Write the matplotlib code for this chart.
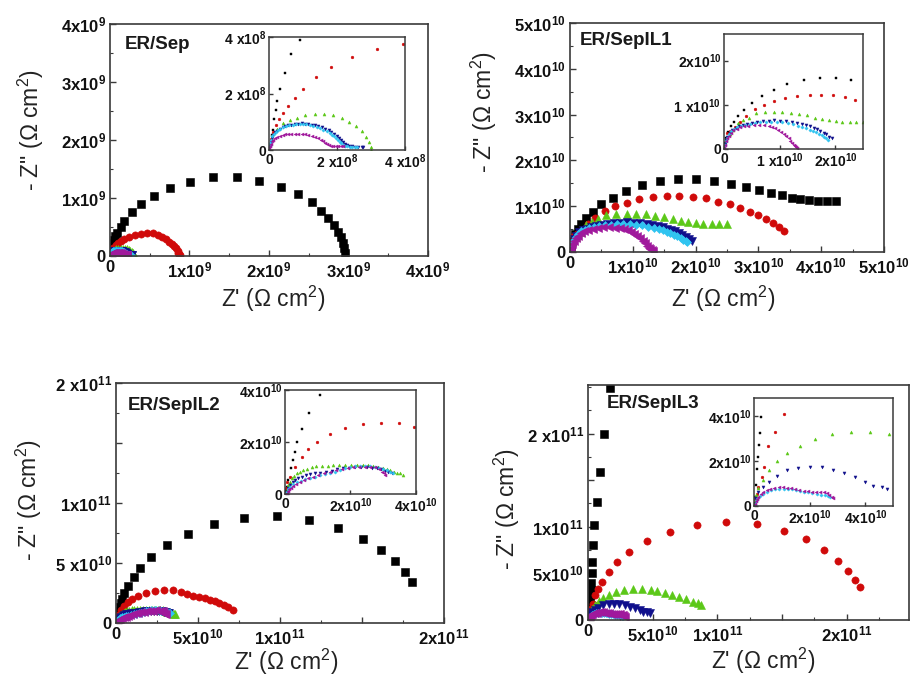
import numpy as np
import matplotlib as mpl
mpl.use('Agg')
import matplotlib.pyplot as plt
from matplotlib.ticker import FixedLocator, MultipleLocator

plt.rcParams['font.family'] = ['Liberation Sans', 'DejaVu Sans']
plt.rcParams['mathtext.default'] = 'regular'

# ---------------- ER/Sep (units 1e9 / 1e8) ----------------
sep_k_x = np.array([0.003, 0.008, 0.011, 0.015, 0.021, 0.024, 0.032, 0.046, 0.065, 0.092, 0.135, 0.18, 0.273,
                    0.39, 0.553, 0.755, 1.006, 1.292, 1.594, 1.878, 2.151, 2.369, 2.537, 2.65, 2.746, 2.821,
                    2.872, 2.902, 2.927, 2.943, 2.952]) * 1e9
sep_k_y = np.array([0.014, 0.053, 0.07, 0.111, 0.143, 0.175, 0.216, 0.271, 0.339, 0.391, 0.495, 0.609, 0.759,
                    0.897, 1.04, 1.178, 1.281, 1.357, 1.357, 1.298, 1.19, 1.069, 0.926, 0.776, 0.65, 0.529,
                    0.419, 0.322, 0.229, 0.133, 0.047]) * 1e9
sep_r_x = np.array([0.005, 0.012, 0.0206, 0.030, 0.042, 0.057, 0.075, 0.101, 0.137, 0.182, 0.243, 0.317, 0.395,
                    0.47, 0.54, 0.60, 0.65, 0.70, 0.74, 0.78, 0.81, 0.83, 0.85, 0.86, 0.87, 0.875]) * 1e9
sep_r_y = np.array([0.04, 0.065, 0.0877, 0.108, 0.131, 0.154, 0.185, 0.216, 0.257, 0.295, 0.330, 0.359, 0.374,
                    0.40, 0.39, 0.365, 0.33, 0.29, 0.25, 0.21, 0.17, 0.13, 0.09, 0.06, 0.03, 0.01]) * 1e9
sep_g_x = np.array([0.02, 0.08, 0.226, 0.42, 0.62, 0.81, 1.06, 1.35, 1.62, 1.89, 2.14, 2.36, 2.56, 2.73, 2.85,
                    2.93, 2.99, 3.01]) * 1e8
sep_g_y = np.array([0.2, 0.526, 0.76, 0.94, 1.05, 1.15, 1.23, 1.29, 1.29, 1.24, 1.15, 0.99, 0.84, 0.67, 0.47,
                    0.29, 0.12, 0.0]) * 1e8
sep_b_x = np.array([0.02, 0.05, 0.09, 0.13, 0.18, 0.24, 0.32, 0.40, 0.48, 0.57, 0.66, 0.76, 0.86, 0.96, 1.06,
                    1.16, 1.26, 1.35, 1.45, 1.55, 1.65, 1.75, 1.83, 1.91, 1.99, 2.07, 2.13, 2.19, 2.24, 2.28,
                    2.35, 2.43, 2.52, 2.63, 2.72, 2.77]) * 1e8
sep_b_y = np.array([0.15, 0.29, 0.42, 0.53, 0.62, 0.68, 0.74, 0.80, 0.84, 0.88, 0.90, 0.92, 0.93, 0.94, 0.93,
                    0.91, 0.89, 0.87, 0.84, 0.80, 0.75, 0.70, 0.64, 0.58, 0.51, 0.44, 0.36, 0.29, 0.22, 0.18,
                    0.14, 0.13, 0.12, 0.12, 0.12, 0.12]) * 1e8
sep_c_x = np.array([0.02, 0.04, 0.07, 0.10, 0.15, 0.20, 0.26, 0.33, 0.41, 0.50, 0.60, 0.70, 0.80, 0.90, 1.00,
                    1.10, 1.20, 1.30, 1.40, 1.50, 1.60, 1.70, 1.78, 1.85, 1.92, 1.98, 2.03, 2.08, 2.13, 2.18,
                    2.24, 2.30, 2.37, 2.45, 2.53, 2.60]) * 1e8
sep_c_y = np.array([0.15, 0.25, 0.36, 0.48, 0.57, 0.64, 0.70, 0.76, 0.81, 0.85, 0.88, 0.90, 0.92, 0.92, 0.92,
                    0.91, 0.89, 0.86, 0.82, 0.78, 0.72, 0.66, 0.60, 0.54, 0.48, 0.42, 0.36, 0.30, 0.24, 0.19,
                    0.15, 0.13, 0.12, 0.11, 0.11, 0.10]) * 1e8
sep_m_x = np.array([0.01, 0.03, 0.05, 0.09, 0.13, 0.18, 0.24, 0.32, 0.40, 0.48, 0.57, 0.66, 0.76, 0.86, 0.96,
                    1.06, 1.16, 1.26, 1.35, 1.44, 1.52, 1.59, 1.65, 1.70, 1.75, 1.82, 1.89, 1.96, 2.04, 2.11,
                    2.19]) * 1e8
sep_m_y = np.array([0.06, 0.15, 0.23, 0.31, 0.37, 0.42, 0.47, 0.51, 0.54, 0.56, 0.57, 0.58, 0.58, 0.58, 0.57,
                    0.56, 0.54, 0.51, 0.47, 0.42, 0.37, 0.31, 0.26, 0.22, 0.18, 0.15, 0.14, 0.14, 0.14, 0.14,
                    0.14]) * 1e8

# ---------------- ER/SepIL1 (units 1e10) ----------------
il1_k_x = np.array([0.01, 0.036, 0.077, 0.12, 0.18, 0.26, 0.36, 0.50, 0.68, 0.89, 1.14, 1.43, 1.72, 2.01, 2.29,
                    2.56, 2.80, 3.01, 3.20, 3.37, 3.53, 3.67, 3.81, 3.95, 4.10, 4.24]) * 1e10
il1_k_y = np.array([0.13, 0.24, 0.39, 0.51, 0.62, 0.75, 0.88, 1.04, 1.19, 1.34, 1.47, 1.56, 1.60, 1.60, 1.56,
                    1.48, 1.43, 1.35, 1.29, 1.24, 1.19, 1.15, 1.14, 1.12, 1.11, 1.12]) * 1e10
il1_r_x = np.array([0.03, 0.06, 0.11, 0.19, 0.28, 0.40, 0.56, 0.72, 0.90, 1.10, 1.32, 1.54, 1.74, 1.96, 2.17,
                    2.36, 2.55, 2.71, 2.86, 3.00, 3.12, 3.24, 3.33, 3.41]) * 1e10
il1_r_y = np.array([0.20, 0.36, 0.40, 0.49, 0.62, 0.75, 0.90, 1.00, 1.08, 1.15, 1.20, 1.22, 1.22, 1.21, 1.17,
                    1.10, 1.04, 0.95, 0.88, 0.81, 0.72, 0.63, 0.54, 0.46]) * 1e10
il1_g_x = np.array([0.03, 0.10, 0.17, 0.25, 0.35, 0.45, 0.58, 0.74, 0.90, 1.05, 1.21, 1.35, 1.50, 1.64, 1.76,
                    1.88, 2.01, 2.12, 2.26, 2.38, 2.50]) * 1e10
il1_g_y = np.array([0.22, 0.33, 0.44, 0.59, 0.66, 0.71, 0.81, 0.84, 0.84, 0.84, 0.82, 0.79, 0.76, 0.71, 0.68,
                    0.65, 0.63, 0.61, 0.61, 0.61, 0.61]) * 1e10
il1_b_x = np.array([0.01, 0.03, 0.06, 0.10, 0.15, 0.21, 0.27, 0.34, 0.41, 0.50, 0.59, 0.70, 0.80, 0.90, 1.01,
                    1.11, 1.22, 1.31, 1.40, 1.48, 1.55, 1.61, 1.67, 1.73, 1.79, 1.84, 1.89, 1.94]) * 1e10
il1_b_y = np.array([0.12, 0.20, 0.28, 0.36, 0.43, 0.47, 0.51, 0.54, 0.57, 0.59, 0.61, 0.63, 0.64, 0.645, 0.64,
                    0.63, 0.61, 0.59, 0.57, 0.54, 0.51, 0.48, 0.45, 0.41, 0.37, 0.33, 0.28, 0.24]) * 1e10
il1_c_x = np.array([0.01, 0.03, 0.05, 0.09, 0.13, 0.18, 0.24, 0.31, 0.38, 0.46, 0.55, 0.65, 0.75, 0.85, 0.95,
                    1.05, 1.15, 1.24, 1.33, 1.41, 1.48, 1.54, 1.60, 1.66, 1.71, 1.76, 1.80, 1.84, 1.87]) * 1e10
il1_c_y = np.array([0.10, 0.18, 0.25, 0.33, 0.40, 0.45, 0.49, 0.52, 0.55, 0.57, 0.59, 0.60, 0.61, 0.615, 0.61,
                    0.60, 0.58, 0.555, 0.53, 0.50, 0.47, 0.44, 0.41, 0.38, 0.34, 0.31, 0.27, 0.24, 0.21]) * 1e10
il1_m_x = np.array([0.0, 0.01, 0.03, 0.06, 0.09, 0.13, 0.17, 0.23, 0.29, 0.36, 0.44, 0.53, 0.62, 0.71, 0.80,
                    0.86, 0.92, 0.97, 1.02, 1.07, 1.12, 1.16, 1.19, 1.22, 1.25, 1.28, 1.30, 1.32]) * 1e10
il1_m_y = np.array([0.02, 0.08, 0.17, 0.24, 0.30, 0.36, 0.42, 0.46, 0.49, 0.51, 0.53, 0.54, 0.545, 0.535, 0.52,
                    0.50, 0.47, 0.43, 0.39, 0.35, 0.30, 0.25, 0.19, 0.14, 0.09, 0.06, 0.04, 0.02]) * 1e10

# ---------------- ER/SepIL2 (units 1e10) ----------------
il2_k_x = np.array([0.02, 0.05, 0.10, 0.17, 0.23, 0.31, 0.36, 0.51, 0.74, 1.07, 1.46, 2.13, 3.09, 4.37, 5.98,
                    7.80, 9.80, 11.79, 13.56, 15.08, 16.16, 17.01, 17.62, 18.03]) * 1e10
il2_k_y = np.array([0.15, 0.28, 0.54, 0.99, 1.31, 1.63, 2.01, 2.49, 3.10, 3.81, 4.56, 5.53, 6.5, 7.42, 8.25,
                    8.72, 8.92, 8.58, 7.89, 7.03, 6.08, 5.14, 4.25, 3.44]) * 1e10
il2_r_x = np.array([0.02, 0.06, 0.15, 0.30, 0.51, 0.71, 0.99, 1.37, 1.83, 2.39, 2.92, 3.48, 3.94, 4.31, 4.71,
                    5.08, 5.43, 5.73, 6.04, 6.30, 6.59, 6.85, 7.11]) * 1e10
il2_r_y = np.array([0.25, 0.45, 0.67, 1.05, 1.41, 1.72, 1.99, 2.29, 2.53, 2.68, 2.74, 2.74, 2.59, 2.42, 2.25,
                    2.14, 2.06, 1.92, 1.83, 1.69, 1.5, 1.31, 1.08]) * 1e10
il2_g_x = np.array([0.02, 0.05, 0.10, 0.15, 0.20, 0.28, 0.36, 0.46, 0.56, 0.68, 0.81, 0.96, 1.12, 1.30, 1.48,
                    1.66, 1.83, 2.01, 2.19, 2.37, 2.54, 2.70, 2.85, 2.98, 3.11, 3.22, 3.33, 3.42, 3.51, 3.61]) * 1e10
il2_g_y = np.array([0.05, 0.15, 0.35, 0.48, 0.60, 0.70, 0.79, 0.86, 0.92, 0.98, 1.03, 1.06, 1.08, 1.09, 1.10,
                    1.11, 1.12, 1.12, 1.12, 1.11, 1.10, 1.08, 1.05, 1.00, 0.95, 0.91, 0.86, 0.82, 0.79, 0.73]) * 1e10
il2_b_x = np.array([0.02, 0.05, 0.10, 0.15, 0.23, 0.31, 0.41, 0.51, 0.63, 0.76, 0.91, 1.07, 1.25, 1.43, 1.60,
                    1.78, 1.96, 2.14, 2.31, 2.49, 2.65, 2.80, 2.93, 3.05, 3.16, 3.26]) * 1e10
il2_b_y = np.array([0.03, 0.09, 0.22, 0.35, 0.45, 0.54, 0.61, 0.67, 0.72, 0.77, 0.80, 0.82, 0.86, 0.90, 0.95,
                    0.99, 1.01, 1.03, 1.03, 1.03, 1.01, 0.99, 0.95, 0.90, 0.86, 0.82]) * 1e10
il2_c_x = np.array([0.02, 0.05, 0.10, 0.15, 0.25, 0.36, 0.48, 0.61, 0.76, 0.92, 1.07, 1.22, 1.38, 1.53, 1.68,
                    1.83, 1.98, 2.14, 2.29, 2.44, 2.60, 2.75, 2.88, 3.00, 3.11, 3.21, 3.30]) * 1e10
il2_c_y = np.array([0.03, 0.08, 0.18, 0.28, 0.38, 0.47, 0.52, 0.56, 0.62, 0.67, 0.72, 0.76, 0.81, 0.86, 0.92,
                    0.99, 1.04, 1.08, 1.09, 1.08, 1.06, 1.03, 0.99, 0.95, 0.91, 0.86, 0.82]) * 1e10
il2_m_x = np.array([0.02, 0.05, 0.09, 0.13, 0.19, 0.25, 0.35, 0.46, 0.58, 0.71, 0.86, 1.02, 1.19, 1.37, 1.55,
                    1.73, 1.91, 2.09, 2.27, 2.44, 2.60, 2.75, 2.86, 2.95, 3.01, 3.05]) * 1e10
il2_m_y = np.array([0.02, 0.05, 0.11, 0.18, 0.25, 0.31, 0.39, 0.47, 0.54, 0.60, 0.67, 0.73, 0.80, 0.86, 0.91,
                    0.95, 0.99, 1.03, 1.04, 1.05, 1.04, 1.03, 0.96, 0.86, 0.79, 0.73]) * 1e10

# ---------------- ER/SepIL3 (units 1e10) ----------------
il3_k_x = np.array([0.02, 0.04, 0.07, 0.12, 0.16, 0.19, 0.22, 0.24, 0.28, 0.31, 0.36, 0.49, 0.67, 0.93, 1.21,
                    1.72]) * 1e10
il3_k_y = np.array([0.15, 0.41, 0.93, 1.63, 2.19, 2.71, 3.23, 3.97, 5.07, 6.25, 8.04, 10.18, 12.68, 15.9, 19.9,
                    24.9]) * 1e10
il3_r_x = np.array([0.05, 0.10, 0.16, 0.28, 0.36, 0.52, 0.76, 1.09, 1.59, 2.24, 3.19, 4.55, 6.33, 8.39, 10.70,
                    13.02, 15.15, 16.82, 18.24, 19.34, 20.12, 20.63, 20.99]) * 1e10
il3_r_y = np.array([0.3, 0.55, 0.86, 1.28, 1.75, 2.67, 3.30, 4.09, 5.18, 6.18, 7.32, 8.50, 9.46, 10.18, 10.47,
                    10.29, 9.57, 8.65, 7.50, 6.36, 5.28, 4.29, 3.50]) * 1e10
il3_g_x = np.array([0.03, 0.08, 0.16, 0.32, 0.55, 0.84, 1.20, 1.65, 2.19, 2.79, 3.49, 4.17, 4.86, 5.35, 5.94,
                    6.46, 7.05, 7.56, 8.13, 8.51, 8.72]) * 1e10
il3_g_y = np.array([0.25, 0.5, 0.79, 1.16, 1.6, 2.01, 2.37, 2.68, 2.98, 3.18, 3.30, 3.30, 3.21, 3.14, 2.93,
                    2.68, 2.43, 2.21, 1.96, 1.79, 1.6]) * 1e10
il3_b_x = np.array([0.04, 0.16, 0.34, 0.55, 0.81, 1.17, 1.59, 2.01, 2.43, 2.85, 3.24, 3.63, 3.99, 4.29, 4.59,
                    4.80]) * 1e10
il3_b_y = np.array([0.34, 0.64, 0.86, 1.08, 1.33, 1.60, 1.67, 1.72, 1.72, 1.60, 1.45, 1.27, 1.08, 0.90, 0.83,
                    0.75]) * 1e10
il3_c_x = np.array([0.02, 0.06, 0.12, 0.22, 0.33, 0.46, 0.60, 0.76, 0.91, 1.06, 1.21, 1.36, 1.50, 1.65, 1.80,
                    1.95, 2.10, 2.25, 2.40, 2.55, 2.65, 2.73]) * 1e10
il3_c_y = np.array([0.10, 0.20, 0.30, 0.44, 0.55, 0.64, 0.70, 0.74, 0.76, 0.77, 0.76, 0.74, 0.71, 0.68, 0.64,
                    0.60, 0.56, 0.53, 0.51, 0.49, 0.45, 0.41]) * 1e10
il3_m_x = np.array([0.02, 0.06, 0.10, 0.16, 0.25, 0.34, 0.46, 0.58, 0.73, 0.88, 1.03, 1.18, 1.33, 1.48, 1.63,
                    1.78, 1.93, 2.07, 2.22, 2.37, 2.50, 2.61, 2.70, 2.79, 2.85]) * 1e10
il3_m_y = np.array([0.08, 0.20, 0.30, 0.41, 0.53, 0.64, 0.71, 0.77, 0.80, 0.83, 0.83, 0.81, 0.79, 0.76, 0.72,
                    0.68, 0.66, 0.64, 0.63, 0.62, 0.60, 0.56, 0.49, 0.41, 0.34]) * 1e10

# series order: colour, marker (Origin default cycle)
colors = ['#000000', '#d00a0a', '#5cc818', '#10108c', '#30c4f0', '#a0189c']
markers = ['s', 'o', '^', 'v', 'D', '<']
main_ms = [5.4, 5.2, 5.4, 5.4, 4.0, 5.2]
inset_ms = [2.0, 2.0, 2.2, 2.2, 1.7, 2.2]

panels = [
    dict(title='ER/Sep',
         series=[(sep_k_x, sep_k_y), (sep_r_x, sep_r_y), (sep_g_x, sep_g_y), (sep_b_x, sep_b_y),
                 (sep_c_x, sep_c_y), (sep_m_x, sep_m_y)],
         rect=[0.1206, 0.6235, 0.3487, 0.3412], lim=(4e9, 4e9),
         xt=[0, 1e9, 2e9, 3e9, 4e9], xl=['0', '$1x10^{9}$', '$2x10^{9}$', '$3x10^{9}$', '$4x10^{9}$'],
         yt=[0, 1e9, 2e9, 3e9, 4e9], yl=['0', '$1x10^{9}$', '$2x10^{9}$', '$3x10^{9}$', '$4x10^{9}$'],
         minor=(5e8, 5e8), title_xy=(0.045, 0.95),
         inset=[0.2950, 0.7794, 0.1491, 0.1662], ilim=(4e8, 4e8),
         ixt=[0, 2e8, 4e8], ixl=['0', r'$2\ x10^{8}$', r'$4\ x10^{8}$'],
         iyt=[0, 2e8, 4e8], iyl=['0', r'$2\ x10^{8}$', r'$4\ x10^{8}$'],
         xlab=(273, 299), ylab=(31, 130)),
    dict(title='ER/SepIL1',
         series=[(il1_k_x, il1_k_y), (il1_r_x, il1_r_y), (il1_g_x, il1_g_y), (il1_b_x, il1_b_y),
                 (il1_c_x, il1_c_y), (il1_m_x, il1_m_y)],
         rect=[0.625, 0.6294, 0.3443, 0.3368], lim=(5e10, 5e10),
         xt=[0, 1e10, 2e10, 3e10, 4e10, 5e10],
         xl=['0', '$1x10^{10}$', '$2x10^{10}$', '$3x10^{10}$', '$4x10^{10}$', '$5x10^{10}$'],
         yt=[0, 1e10, 2e10, 3e10, 4e10, 5e10],
         yl=['0', '$1x10^{10}$', '$2x10^{10}$', '$3x10^{10}$', '$4x10^{10}$', '$5x10^{10}$'],
         minor=(5e9, 5e9), title_xy=(0.03, 0.96),
         inset=[0.7939, 0.7809, 0.1524, 0.1691], ilim=(2.5e10, 2.6e10),
         ixt=[0, 1e10, 2e10], ixl=['0', r'$1\ x10^{10}$', '$2x10^{10}$'],
         iyt=[0, 1e10, 2e10], iyl=['0', r'$1\ x10^{10}$', '$2x10^{10}$'],
         xlab=(723, 299), ylab=(484, 112)),
    dict(title='ER/SepIL2',
         series=[(il2_k_x, il2_k_y), (il2_r_x, il2_r_y), (il2_g_x, il2_g_y), (il2_b_x, il2_b_y),
                 (il2_c_x, il2_c_y), (il2_m_x, il2_m_y)],
         rect=[0.1272, 0.0838, 0.3596, 0.3529], lim=(2e11, 2e11),
         xt=[0, 5e10, 1e11, 1.5e11, 2e11], xl=['0', '$5x10^{10}$', '$1x10^{11}$', '', '$2x10^{11}$'],
         yt=[0, 5e10, 1e11, 1.5e11, 2e11], yl=['0', r'$5\ x10^{10}$', '$1x10^{11}$', '', r'$2\ x10^{11}$'],
         minor=(2.5e10, 2.5e10), title_xy=(0.037, 0.94),
         inset=[0.3125, 0.2735, 0.1436, 0.1529], ilim=(4e10, 4e10),
         ixt=[0, 2e10, 4e10], ixl=['0', '$2x10^{10}$', '$4x10^{10}$'],
         iyt=[0, 2e10, 4e10], iyl=['0', '$2x10^{10}$', '$4x10^{10}$'],
         xlab=(286, 662), ylab=(29, 500)),
    dict(title='ER/SepIL3',
         series=[(il3_k_x, il3_k_y), (il3_r_x, il3_r_y), (il3_g_x, il3_g_y), (il3_b_x, il3_b_y),
                 (il3_c_x, il3_c_y), (il3_m_x, il3_m_y)],
         rect=[0.6447, 0.0882, 0.3520, 0.3456], lim=(2.48e11, 2.52e11),
         xt=[0, 5e10, 1e11, 1.5e11, 2e11], xl=['0', '$5x10^{10}$', '$1x10^{11}$', '', '$2x10^{11}$'],
         yt=[0, 5e10, 1e11, 1.5e11, 2e11], yl=['0', '$5x10^{10}$', '$1x10^{11}$', '', r'$2\ x10^{11}$'],
         minor=(2.5e10, 2.5e10), title_xy=(0.06, 0.957),
         inset=[0.8268, 0.2559, 0.1524, 0.1588], ilim=(5e10, 4.8e10),
         ixt=[0, 2e10, 4e10], ixl=['0', '$2x10^{10}$', '$4x10^{10}$'],
         iyt=[0, 2e10, 4e10], iyl=['0', '$2x10^{10}$', '$4x10^{10}$'],
         xlab=(763, 661), ylab=(507, 509)),
]

W, H = 912, 680
fig = plt.figure(figsize=(W / 100, H / 100), dpi=100)


def style_axes(ax, xt, xl, yt, yl, size, minor=None, lw=1.2):
    for s in ax.spines.values():
        s.set_linewidth(lw)
        s.set_color('#3a3a3a')
    ax.xaxis.set_major_locator(FixedLocator(xt))
    ax.yaxis.set_major_locator(FixedLocator(yt))
    ax.set_xticklabels(xl, fontsize=size, fontweight='bold')
    ax.set_yticklabels(yl, fontsize=size, fontweight='bold')
    if minor is not None:
        ax.xaxis.set_minor_locator(MultipleLocator(minor[0]))
        ax.yaxis.set_minor_locator(MultipleLocator(minor[1]))
    ax.tick_params(which='major', direction='in', length=4, width=1, pad=3, colors='#3a3a3a', labelcolor='#111111')
    ax.tick_params(which='minor', direction='in', length=2.5, width=0.8, colors='#3a3a3a')


for p in panels:
    ax = fig.add_axes(p['rect'])
    for (x, y), c, m, ms in zip(p['series'], colors, markers, main_ms):
        ax.plot(x, y, linestyle='None', marker=m, ms=ms, color=c, mec=c, mew=0.4)
    ax.set_xlim(0, p['lim'][0])
    ax.set_ylim(0, p['lim'][1])
    style_axes(ax, p['xt'], p['xl'], p['yt'], p['yl'], 12, p['minor'])
    ax.text(p['title_xy'][0], p['title_xy'][1], p['title'], transform=ax.transAxes,
            ha='left', va='top', fontsize=13.5, fontweight='bold', color='#1a1a1a')

    axi = fig.add_axes(p['inset'])
    axi.set_facecolor('white')
    for (x, y), c, m, ms in zip(p['series'], colors, markers, inset_ms):
        axi.plot(x, y, linestyle='None', marker=m, ms=ms, color=c, mec=c, mew=0.3)
    axi.set_xlim(0, p['ilim'][0])
    axi.set_ylim(0, p['ilim'][1])
    style_axes(axi, p['ixt'], p['ixl'], p['iyt'], p['iyl'], 10, lw=1.1)
    axi.tick_params(which='major', length=3, pad=2)

    fig.text(p['xlab'][0] / W, 1 - p['xlab'][1] / H, "Z' (\u03a9 cm$^{2}$)",
             ha='center', va='center', fontsize=16.5, color='#222222')
    fig.text(p['ylab'][0] / W, 1 - p['ylab'][1] / H, '- Z" (\u03a9 cm$^{2}$)',
             ha='center', va='center', rotation=90, fontsize=16.5, color='#222222')

fig.savefig('out.png', dpi=100)
